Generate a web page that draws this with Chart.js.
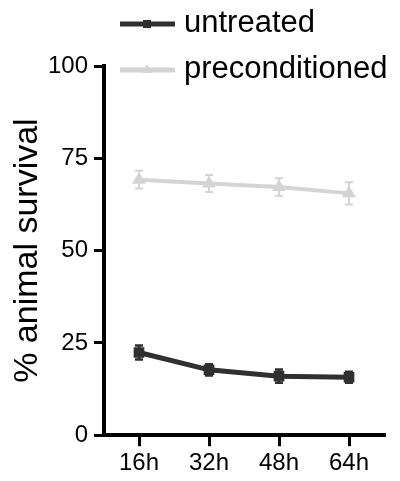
<!doctype html>
<html lang="en">
  <head>
    <meta charset="UTF-8" />
    <title>Animal survival</title>
    <script src="https://cdn.jsdelivr.net/npm/chart.js"></script>
    <style>
      html, body { margin: 0; padding: 0; background: #fff; }
      #wrap { width: 400px; height: 481px; }
    </style>
  </head>
  <body>
    <div id="wrap"><canvas id="survivalChart"></canvas></div>
    <script>
      const timepoints = ["16h", "32h", "48h", "64h"];
      const untreated = [22.4, 17.7, 16.0, 15.7];
      const untreatedErr = [1.9, 1.5, 1.8, 1.5];
      const preconditioned = [69.2, 68.2, 67.2, 65.5];
      const preconditionedErr = [2.4, 2.3, 2.4, 3.0];
      const yTicks = [0, 25, 50, 75, 100];

      const FONT = "'Liberation Sans', Arial, sans-serif";

      // error bars drawn from each dataset's own err array
      const errorBars = {
        id: "errorBars",
        beforeDatasetsDraw(chart) {
          const ctx = chart.ctx;
          const y = chart.scales.y;
          chart.data.datasets.forEach((ds, i) => {
            const meta = chart.getDatasetMeta(i);
            ctx.save();
            ctx.strokeStyle = ds.borderColor;
            ctx.lineWidth = ds.errWidth;
            meta.data.forEach((pt, j) => {
              const v = ds.data[j], e = ds.err[j];
              const top = y.getPixelForValue(v + e);
              const bot = y.getPixelForValue(v - e);
              ctx.beginPath();
              ctx.moveTo(pt.x, top); ctx.lineTo(pt.x, bot);
              ctx.moveTo(pt.x - 4, top); ctx.lineTo(pt.x + 4, top);
              ctx.moveTo(pt.x - 4, bot); ctx.lineTo(pt.x + 4, bot);
              ctx.stroke();
            });
            ctx.restore();
          });
        },
      };

      // legend at the top-left, overlapping the plot top like the original
      const topLegend = {
        id: "topLegend",
        afterDraw(chart) {
          const ctx = chart.ctx;
          const rows = [24, 70];
          chart.data.datasets.forEach((ds, i) => {
            const ly = rows[i];
            ctx.save();
            ctx.strokeStyle = ds.borderColor;
            ctx.fillStyle = ds.borderColor;
            ctx.lineWidth = 5;
            ctx.beginPath();
            ctx.moveTo(120, ly); ctx.lineTo(175, ly);
            ctx.stroke();
            if (ds.pointStyle === "rect") {
              ctx.fillRect(143, ly - 4, 8, 8);
            } else {
              ctx.beginPath();
              ctx.moveTo(147, ly - 6); ctx.lineTo(152, ly + 3); ctx.lineTo(142, ly + 3);
              ctx.closePath(); ctx.fill();
            }
            ctx.fillStyle = "#000";
            ctx.font = "31px " + FONT;
            ctx.textBaseline = "middle";
            ctx.fillText(ds.label, 184, ly - 1);
            ctx.restore();
          });
        },
      };

      new Chart(document.getElementById("survivalChart"), {
        type: "line",
        data: {
          labels: timepoints,
          datasets: [
            {
              label: "untreated",
              data: untreated,
              err: untreatedErr,
              errWidth: 2.5,
              borderColor: "#303030",
              backgroundColor: "#303030",
              borderWidth: 5,
              pointStyle: "rect",
              pointRadius: 4,
              tension: 0,
            },
            {
              label: "preconditioned",
              data: preconditioned,
              err: preconditionedErr,
              errWidth: 2,
              borderColor: "#d4d4d4",
              backgroundColor: "#d4d4d4",
              borderWidth: 4,
              pointStyle: "triangle",
              pointRadius: 4,
              tension: 0,
            },
          ],
        },
        options: {
          responsive: true,
          maintainAspectRatio: false,
          animation: false,
          layout: { padding: { top: 66, right: 16, left: 0, bottom: 0 } },
          plugins: { legend: { display: false }, tooltip: { enabled: false } },
          scales: {
            x: {
              offset: true,
              grid: { drawOnChartArea: false, offset: false, tickLength: 11, lineWidth: 3, color: "#000" },
              border: { color: "#000", width: 4 },
              ticks: { color: "#000", font: { family: FONT, size: 24 }, padding: 3 },
            },
            y: {
              min: 0,
              max: 100,
              afterFit: (s) => { s.width = 104; },
              afterBuildTicks: (s) => { s.ticks = yTicks.map((v) => ({ value: v })); },
              grid: { drawOnChartArea: false, tickLength: 10, lineWidth: 3, color: "#000" },
              border: { color: "#000", width: 4 },
              ticks: { color: "#000", font: { family: FONT, size: 24 }, padding: 6 },
              title: {
                display: true,
                text: "% animal survival",
                color: "#000",
                font: { family: FONT, size: 34 },
                padding: { top: 7, bottom: 0 },
              },
            },
          },
        },
        plugins: [errorBars, topLegend],
      });
    </script>
  </body>
</html>
